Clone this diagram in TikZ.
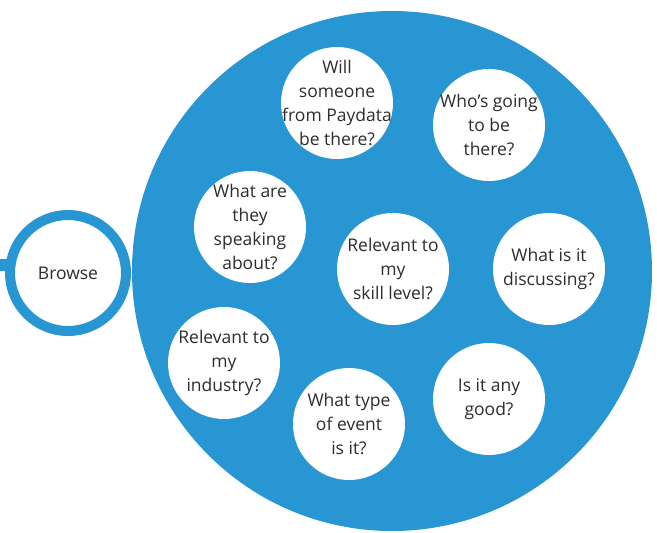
\documentclass[tikz,border=0pt]{standalone}
\usepackage{fontspec}
\setmainfont{Open Sans}
\definecolor{bblue}{RGB}{41,150,212}
\definecolor{txt}{RGB}{45,45,45}
\begin{document}
\begin{tikzpicture}[x=1pt,y=-1pt,
  q/.style={circle,fill=white,inner sep=-24pt,minimum size=112pt,align=center,
    text=txt,font=\fontsize{17.5}{24}\selectfont},
  big/.style={circle,fill=bblue,inner sep=0pt,minimum size=520pt},
  ring/.style={circle,draw=bblue,line width=10pt,fill=white,inner sep=0pt,minimum size=116pt,
    text=txt,font=\fontsize{17.5}{24}\selectfont}]
\useasboundingbox (0,0) rectangle (657,533);
\begin{scope}
\clip (0,0) rectangle (657,533);
\node[big] (main) at (392,271) {};
\end{scope}
\coordinate (lft) at (0,265);
\draw[bblue,line width=12pt] (lft) -- (68,265);
\node[ring] (browse) at (68,273) {Browse};
\node[q] (q1) at (337,103) {Will\\someone\\from Paydata\\be there?};
\node[q] (q2) at (489,125) {Who’s going\\to be\\there?};
\node[q] (q3) at (250,227) {What are\\they\\speaking\\about?};
\node[q] (q4) at (393,269) {Relevant to\\my\\skill level?};
\node[q] (q5) at (549,269) {What is it\\discussing?};
\node[q] (q6) at (224,363) {Relevant to\\my\\industry?};
\node[q] (q7) at (349,424) {What type\\of event\\is it?};
\node[q] (q8) at (489,399) {Is it any\\good?};
\end{tikzpicture}
\end{document}
